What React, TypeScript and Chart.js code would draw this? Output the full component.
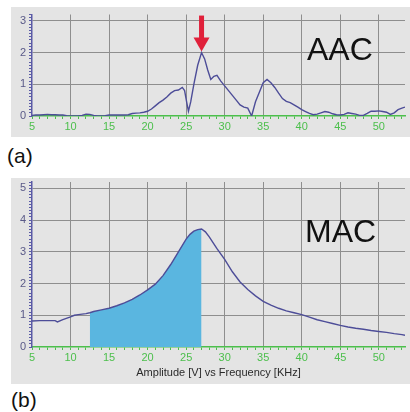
import React, { useEffect, useRef } from "react";
import { Chart, registerables } from "chart.js";

Chart.register(...registerables);

// ---------- data ----------
const FREQ_MIN = 5;
const FREQ_MAX = 53.4;
const AAC_Y_MAX = 3.2;
const MAC_Y_MAX = 5.2;

const AAC_FREQ = [
  5, 5.5, 6, 6.5, 7, 7.5, 8, 8.5, 9, 9.5, 10, 10.5, 11, 11.5, 12, 12.5, 13, 13.5, 14, 14.5,
  15, 15.5, 16, 16.5, 17, 17.5, 18, 18.5, 19, 19.5, 20, 20.5, 21, 21.5, 22, 22.5, 23, 23.5,
  24, 24.5, 24.8, 25.1, 25.3, 25.6, 26, 26.5, 27, 27.4, 27.8, 28.2, 28.6, 29, 29.5, 30, 30.5,
  31, 31.5, 32, 32.5, 33, 33.5, 34, 34.5, 35, 35.5, 36, 36.5, 37, 37.5, 38, 38.5, 39, 39.5,
  40, 40.5, 41, 41.5, 42, 42.5, 43, 43.5, 44, 44.5, 45, 45.5, 46, 46.5, 47, 47.5, 48, 48.5,
  49, 49.5, 50, 50.5, 51, 51.5, 52, 52.5, 53, 53.4,
];
const AAC_AMP = [
  0.02, 0.03, 0.03, 0.04, 0.05, 0.04, 0.04, 0.03, 0.03, 0.01, 0.0, 0.0, 0.0, 0.02, 0.06, 0.05,
  0.02, 0.0, 0.0, 0.01, 0.03, 0.03, 0.03, 0.03, 0.03, 0.04, 0.08, 0.09, 0.1, 0.12, 0.15, 0.22,
  0.32, 0.42, 0.5, 0.6, 0.72, 0.8, 0.82, 0.9, 0.8, 0.4, 0.15, 0.45, 1.0, 1.6, 2.0, 1.8, 1.45,
  1.15, 1.25, 1.28, 1.1, 0.95, 0.8, 0.65, 0.5, 0.35, 0.28, 0.25, 0.0, 0.45, 0.75, 1.05, 1.15,
  1.05, 0.9, 0.72, 0.55, 0.46, 0.42, 0.35, 0.28, 0.2, 0.14, 0.08, 0.04, 0.06, 0.1, 0.14, 0.12,
  0.07, 0.04, 0.03, 0.05, 0.1, 0.08, 0.06, 0.02, 0.02, 0.08, 0.15, 0.15, 0.16, 0.14, 0.12, 0.05,
  0.1, 0.2, 0.25, 0.28,
];

const MAC_FREQ = [
  5, 6, 7, 8, 8.3, 9, 10, 10.5, 11, 12, 12.5, 13, 14, 15, 16, 17, 18, 19, 20, 21, 22, 23, 24,
  25, 25.5, 26, 26.5, 27, 27.5, 28, 29, 30, 31, 32, 33, 34, 35, 36, 37, 38, 39, 40, 41, 42, 43,
  44, 45, 46, 47, 48, 49, 50, 51, 52, 53, 53.4,
];
const MAC_AMP = [
  0.82, 0.83, 0.83, 0.83, 0.79, 0.86, 0.95, 1.0, 1.02, 1.05, 1.08, 1.12, 1.17, 1.22, 1.3, 1.39,
  1.5, 1.64, 1.8, 1.98, 2.25, 2.6, 3.0, 3.4, 3.55, 3.65, 3.7, 3.72, 3.63, 3.47, 3.1, 2.76, 2.37,
  2.05, 1.81, 1.61, 1.44, 1.32, 1.22, 1.14, 1.08, 1.02, 0.94, 0.86, 0.8, 0.74, 0.68, 0.63, 0.59,
  0.56, 0.52, 0.49, 0.46, 0.42, 0.39, 0.37,
];
const MAC_FILL_FROM = 12.5;
const MAC_FILL_TO = 27;

const X_TITLE = "Amplitude [V] vs Frequency [KHz]";

// ---------- styles ----------
const BG = "#e4e4e4";
const GRID = "#8e8e8e";
const GREEN = "#4cbf4c";
const YAXIS = "#5a5aa6";
const YLABEL = "#5a5a88";
const LINE = "#4d4d98";
const FILL = "#5ab6e0";
const RED = "#e0203a";
const FONT = "'Liberation Sans', Arial, sans-serif";

const isInt = (v: number) => Math.abs(v - Math.round(v)) < 1e-6;
const isMult5 = (v: number) => isInt(v) && Math.round(v) % 5 === 0;

function makeScales(yMax: number, xHeight: number, title: boolean) {
  return {
    x: {
      type: "linear",
      min: FREQ_MIN,
      max: FREQ_MAX,
      afterFit: (s: any) => {
        s.height = xHeight;
        s.paddingLeft = 0;
        s.paddingRight = 0;
      },
      border: { color: GREEN, width: 1.5 },
      grid: {
        color: (c: any) => {
          const v = c.tick ? c.tick.value : 0;
          return isMult5(v) && Math.abs(v - FREQ_MIN) > 1e-6 ? GRID : "rgba(0,0,0,0)";
        },
        tickColor: GREEN,
        tickLength: 3,
        lineWidth: 1,
      },
      ticks: {
        stepSize: 1,
        autoSkip: false,
        maxTicksLimit: 200,
        includeBounds: false,
        maxRotation: 0,
        color: GREEN,
        padding: 1,
        font: { family: FONT, size: 11 },
        callback: (v: any) => (isMult5(Number(v)) ? String(Math.round(Number(v))) : ""),
      },
      title: {
        display: title,
        text: X_TITLE,
        color: "#2a2a2a",
        font: { family: FONT, size: 11 },
        padding: { top: 0, bottom: 4 },
      },
    },
    y: {
      type: "linear",
      min: 0,
      max: yMax,
      afterFit: (s: any) => {
        s.width = 20.5;
        s.paddingTop = 0;
        s.paddingBottom = 0;
      },
      border: { color: YAXIS, width: 1.5 },
      grid: {
        color: (c: any) => {
          const v = c.tick ? c.tick.value : 0;
          return isInt(v) && v > 0.5 ? GRID : "rgba(0,0,0,0)";
        },
        tickColor: YAXIS,
        tickLength: 3,
        lineWidth: 1,
      },
      ticks: {
        stepSize: 0.1,
        autoSkip: false,
        maxTicksLimit: 200,
        includeBounds: false,
        color: YLABEL,
        padding: 3,
        font: { family: FONT, size: 11 },
        callback: (v: any) => (isInt(Number(v)) ? String(Math.round(Number(v))) : ""),
      },
    },
  };
}

const arrowPlugin = {
  id: "peakArrow",
  afterDraw(chart: any) {
    const ds = chart.data.datasets[0].data as { x: number; y: number }[];
    let best = ds[0];
    for (const p of ds) if (p.y > best.y) best = p;
    const xs = chart.scales.x;
    const ys = chart.scales.y;
    const px = xs.getPixelForValue(best.x);
    const tip = ys.getPixelForValue(best.y) - 1;
    const ctx = chart.ctx;
    ctx.save();
    ctx.fillStyle = RED;
    ctx.fillRect(px - 2.5, tip - 36, 5, 24);
    ctx.beginPath();
    ctx.moveTo(px - 8, tip - 14);
    ctx.lineTo(px + 8, tip - 14);
    ctx.lineTo(px, tip);
    ctx.closePath();
    ctx.fill();
    ctx.restore();
  },
};

export default function App() {
  const aRef = useRef<HTMLCanvasElement | null>(null);
  const bRef = useRef<HTMLCanvasElement | null>(null);

  useEffect(() => {
    const aacPts = AAC_FREQ.map((x, i) => ({ x, y: AAC_AMP[i] }));
    const macPts = MAC_FREQ.map((x, i) => ({ x, y: MAC_AMP[i] }));
    const fillPts = macPts.filter((p) => p.x >= MAC_FILL_FROM - 1e-6 && p.x <= MAC_FILL_TO + 1e-6);

    const common = {
      responsive: false,
      animation: false,
      events: [],
      plugins: { legend: { display: false }, tooltip: { enabled: false } },
    };

    const a = new Chart(aRef.current as HTMLCanvasElement, {
      type: "line",
      data: {
        datasets: [
          {
            data: aacPts,
            borderColor: LINE,
            borderWidth: 1.4,
            pointRadius: 0,
            tension: 0,
            fill: false,
          },
        ],
      },
      options: {
        ...common,
        layout: { padding: { left: 0.5, right: 5, top: 7.5, bottom: 0 } },
        scales: makeScales(AAC_Y_MAX, 21, false),
      } as any,
      plugins: [arrowPlugin],
    });

    const b = new Chart(bRef.current as HTMLCanvasElement, {
      type: "line",
      data: {
        datasets: [
          {
            data: macPts,
            borderColor: LINE,
            borderWidth: 1.4,
            pointRadius: 0,
            tension: 0,
            fill: false,
            order: 0,
          },
          {
            data: fillPts,
            borderWidth: 0,
            borderColor: "rgba(0,0,0,0)",
            backgroundColor: FILL,
            pointRadius: 0,
            tension: 0,
            fill: "origin",
            order: 1,
          },
        ],
      },
      options: {
        ...common,
        layout: { padding: { left: 0.5, right: 5, top: 4, bottom: 0 } },
        scales: makeScales(MAC_Y_MAX, 37, true),
      } as any,
    });

    return () => {
      a.destroy();
      b.destroy();
    };
  }, []);

  const big: React.CSSProperties = {
    position: "absolute",
    fontFamily: FONT,
    fontSize: 32,
    lineHeight: "32px",
    color: "#111",
  };
  const lab: React.CSSProperties = {
    position: "absolute",
    fontFamily: FONT,
    fontSize: 21,
    lineHeight: "21px",
    color: "#111",
  };

  return (
    <div style={{ position: "absolute", left: 0, top: 0, width: 410, height: 412, background: "#fff", overflow: "hidden" }}>
      <div style={{ position: "absolute", left: 11, top: 7, width: 399, height: 130, background: BG }}>
        <canvas ref={aRef} width={399} height={130} style={{ display: "block", width: 399, height: 130 }} />
      </div>
      <div style={{ ...big, left: 307, top: 33 }}>AAC</div>
      <div style={{ ...lab, left: 7, top: 145 }}>(a)</div>

      <div style={{ position: "absolute", left: 11, top: 178, width: 399, height: 206, background: BG }}>
        <canvas ref={bRef} width={399} height={206} style={{ display: "block", width: 399, height: 206 }} />
      </div>
      <div style={{ ...big, left: 305, top: 215 }}>MAC</div>
      <div style={{ ...lab, left: 11, top: 389 }}>(b)</div>
    </div>
  );
}
